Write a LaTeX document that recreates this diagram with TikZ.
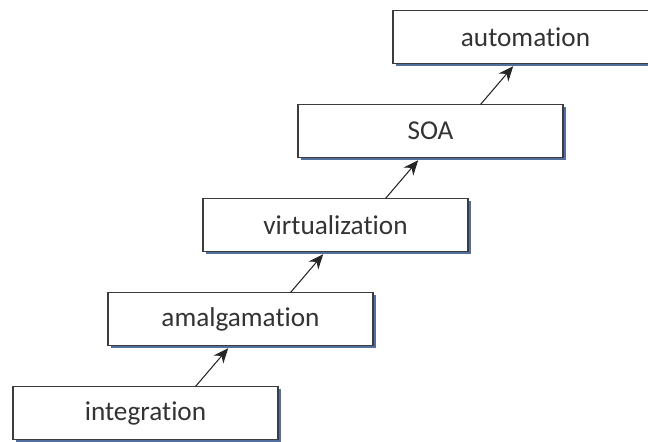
\documentclass[tikz,border=0pt]{standalone}
\usepackage{fontspec}
\setmainfont{Carlito}[Ligatures=NoCommon]
\usetikzlibrary{arrows.meta,positioning,shadows}
\definecolor{boxline}{HTML}{3C3C3C}
\definecolor{boxshade}{HTML}{3F5F95}
\definecolor{boxtext}{HTML}{333333}
\tikzset{stepbox/.style={draw=boxline,line width=0.8pt,fill=white,
    minimum width=5.3cm,minimum height=1.06cm,inner sep=0pt,outer sep=0pt,
    text=boxtext,font=\fontsize{15.5}{18}\selectfont,
    drop shadow={shadow xshift=0.055cm,shadow yshift=-0.055cm,fill=boxshade,opacity=0.9}}}
\begin{document}
\begin{tikzpicture}[>={Stealth[length=3mm,width=2.5mm]},shorten >=2pt,line width=0.6pt,
                    node distance=0.82cm and -3.4cm]
                \useasboundingbox (0,0) rectangle (12.96,8.82);

                \node[stepbox] (integ) at (2.91,0.56) {integration};
                \node[stepbox] (amal) [above right=of integ] {amalgamation};
                \node[stepbox] (virt) [above right=of amal] {virtualization};
                \node[stepbox] (soa) [above right=of virt] {SOA};
                \node[stepbox] (autom) [above right=of soa] {automation};

                \path[->,black!85] ([xshift=1cm]integ.north) edge ([xshift=-0.2cm]amal.south)
                          ([xshift=1cm]amal.north) edge ([xshift=-0.2cm]virt.south)
                          ([xshift=1cm]virt.north) edge ([xshift=-0.2cm]soa.south)
                          ([xshift=1cm]soa.north) edge ([xshift=-0.2cm]autom.south);
            \end{tikzpicture}
\end{document}
